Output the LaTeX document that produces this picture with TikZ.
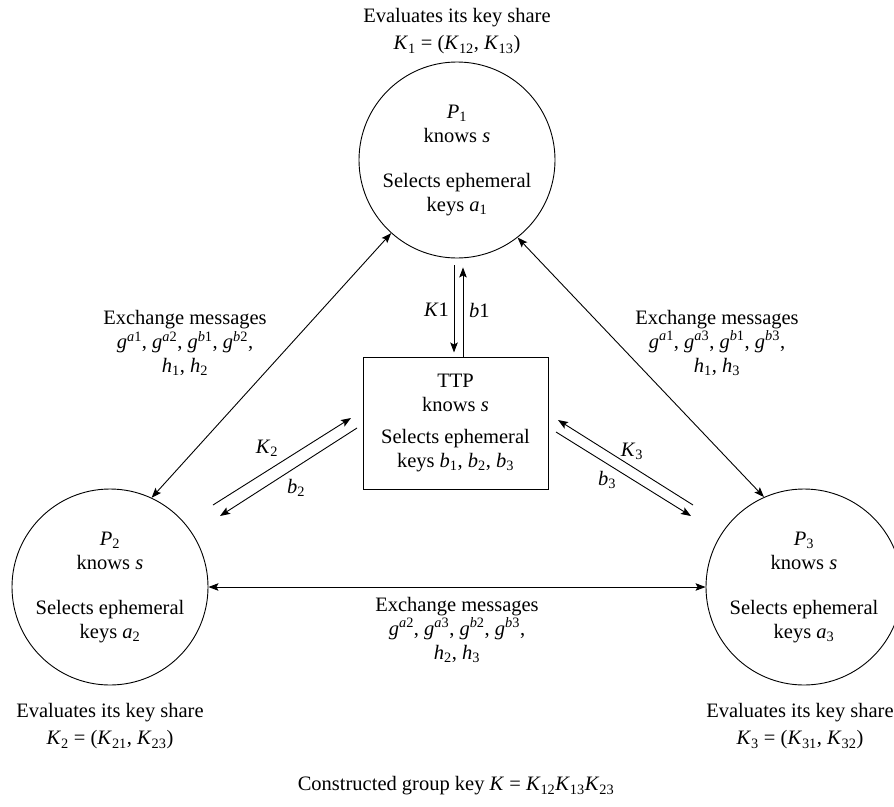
\documentclass[tikz,border=0pt]{standalone}
\usepackage{fontspec}
\setmainfont{Liberation Serif}
\usetikzlibrary{arrows.meta,calc}
\newcommand\isub[2]{\textit{#1}\textsubscript{#2}}
\newcommand\gsup[2]{\textit{g}\textsuperscript{\textit{#1}#2}}
\begin{document}
\begin{tikzpicture}[x=1pt,y=-1pt,
  every node/.style={font=\fontsize{20.5}{24}\selectfont, inner sep=0pt},
  party/.style={draw, circle, minimum size=196pt, align=center, line width=0.9pt},
  ttpbox/.style={draw, rectangle, minimum width=185pt, minimum height=132pt, align=center, line width=1pt},
  lbl/.style={align=center},
  tip/.tip={Stealth[length=10pt,width=7.5pt,inset=2pt]},
  arr/.style={-tip, line width=0.9pt},
  darr/.style={tip-tip, line width=0.9pt}]
\useasboundingbox (0,0) rectangle (894,806);

% parties
\node[party] (p1) at (457,160) {\isub{P}{1}\\ knows \textit{s}\\[21pt] Selects ephemeral\\ keys \isub{a}{1}};
\node[party] (p2) at (110,587) {\isub{P}{2}\\ knows \textit{s}\\[21pt] Selects ephemeral\\ keys \isub{a}{2}};
\node[party] (p3) at (804,587) {\isub{P}{3}\\ knows \textit{s}\\[21pt] Selects ephemeral\\ keys \isub{a}{3}};
\node[ttpbox] (ttp) at (455.5,423) {TTP\\ knows \textit{s}\\[8pt] Selects ephemeral\\ keys \isub{b}{1}, \isub{b}{2}, \isub{b}{3}};

% key share labels
\node (e1) at (457,18) {Evaluates its key share};
\node (k1) at (457,45) {\isub{K}{1} = (\isub{K}{12}, \isub{K}{13})};
\node (e2) at (110,713) {Evaluates its key share};
\node (k2) at (110,740) {\isub{K}{2} = (\isub{K}{21}, \isub{K}{23})};
\node (e3) at (800,713) {Evaluates its key share};
\node (k3) at (800,740) {\isub{K}{3} = (\isub{K}{31}, \isub{K}{32})};
\node (gk) at (456,786) {Constructed group key \textit{K} = \isub{K}{12}\isub{K}{13}\isub{K}{23}};

% exchange message labels
\node[lbl] (m12) at (185,343) {Exchange messages\\ \gsup{a}{1}, \gsup{a}{2}, \gsup{b}{1}, \gsup{b}{2},\\ \isub{h}{1}, \isub{h}{2}};
\node[lbl] (m13) at (717,343) {Exchange messages\\ \gsup{a}{1}, \gsup{a}{3}, \gsup{b}{1}, \gsup{b}{3},\\ \isub{h}{1}, \isub{h}{3}};
\node[lbl] (m23) at (457,630) {Exchange messages\\ \gsup{a}{2}, \gsup{a}{3}, \gsup{b}{2}, \gsup{b}{3},\\ \isub{h}{2}, \isub{h}{3}};

% party-to-party connectors
\draw[darr] (p1.228) -- (p2.65);
\draw[darr] (p1.308) -- (p3.114);
\draw[darr] (p2.east) -- (p3.west);

% P1 <-> TTP
\draw[arr] ($(p1.south)+(-3,7)$) -- ($(ttp.north)+(-1.5,-4)$);
\draw[arr] ($(ttp.north)+(7.5,0)$) -- ($(p1.south)+(6,9)$);
\node[anchor=east] (lk1) at (449,310) {\textit{K}1};
\node[anchor=west] (lb1) at (469,310) {\textit{b}1};

% P2 <-> TTP
\coordinate (k2s) at (213,505);
\coordinate (k2e) at (351,418);
\coordinate (b2s) at (357,428);
\coordinate (b2e) at (220,516);
\draw[arr] (k2s) -- (k2e);
\draw[arr] (b2s) -- (b2e);
\node (lk2) at (267,448) {\isub{K}{2}};
\node (lb2) at (296,488) {\isub{b}{2}};

% P3 <-> TTP
\coordinate (k3s) at (693,505);
\coordinate (k3e) at (558,420);
\coordinate (b3s) at (556,432);
\coordinate (b3e) at (691,516);
\draw[arr] (k3s) -- (k3e);
\draw[arr] (b3s) -- (b3e);
\node (lk3) at (632,451) {\isub{K}{3}};
\node (lb3) at (607,480) {\isub{b}{3}};
\end{tikzpicture}
\end{document}
